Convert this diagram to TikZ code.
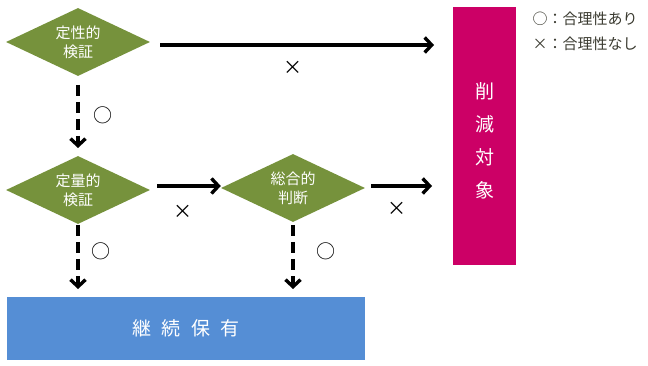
\documentclass[tikz,border=0pt]{standalone}
\usepackage{fontspec}
\setmainfont{Noto Sans CJK JP}
\usetikzlibrary{shapes.geometric,arrows.meta}
\definecolor{olive}{HTML}{76923C}
\definecolor{boxblue}{HTML}{558ED5}
\definecolor{magenta}{HTML}{CC0066}
\definecolor{legend}{HTML}{3A3A30}
\tikzset{
  dia/.style={diamond, fill=olive, draw=none, minimum width=144pt, minimum height=68pt, aspect=2.1, inner sep=0pt, text=white, font=\fontsize{15}{19}\selectfont, align=center},
  arr/.style={line width=3.6pt, -{Straight Barb[length=7pt,width=15pt,line width=3.4pt]}},
  darr/.style={arr, dash pattern=on 11pt off 6pt},
  symb/.style={font=\fontsize{19}{20}\selectfont},
  lbl/.style={font=\fontsize{15}{17}\selectfont, text=legend, anchor=west}
}
\begin{document}
\begin{tikzpicture}[x=1pt,y=-1pt]
\useasboundingbox (0,0) rectangle (648,366);
\node[dia] (d1) at (78,42) {定性的\\検証};
\node[dia] (d2) at (78,190) {定量的\\検証};
\node[dia] (d3) at (293,188) {総合的\\判断};
\node[fill=boxblue, draw=none, minimum width=358pt, minimum height=63pt, inner sep=0pt, text=white, font=\fontsize{19}{20}\selectfont] (keep) at (186,328.5) {継\hspace{0.55em}続\hspace{0.55em}保\hspace{0.55em}有};
\node[fill=magenta, draw=none, minimum width=63pt, minimum height=258pt, inner sep=0pt, text=white, font=\fontsize{19}{33}\selectfont, align=center] (cut) at (484.5,136) {};
\node[text=white, font=\fontsize{19}{33}\selectfont, align=center] (cuttext) at (484.5,141) {削\\減\\対\\象};
\coordinate (s1) at (160,45);
\coordinate (e1) at (434,45);
\coordinate (s2) at (157,186);
\coordinate (s3) at (371,186);
\coordinate (e3) at (432,186);
\coordinate (a1) at (78,85);
\coordinate (b1) at (78,148);
\coordinate (a2) at (78,225);
\coordinate (b2) at (78,289);
\coordinate (a3) at (293,225);
\coordinate (b3) at (293,289);
\draw[arr] (s1) -- (e1);
\draw[darr] (a1) -- (b1);
\draw[arr] (s2) -- (s2 -| d3.west);
\draw[arr] (s3) -- (e3);
\draw[darr] (a2) -- (b2);
\draw[darr] (a3) -- (b3);
\node[symb] at (293,68) {×};
\node[symb] at (183,212) {×};
\node[symb] at (397,209) {×};
\node[symb] at (103,115) {○};
\node[symb] at (101,251) {○};
\node[symb] at (326,251) {○};
\node[lbl] (l1) at (529,19) {○：合理性あり};
\node[lbl] (l2) at (529,44) {×：合理性なし};
\end{tikzpicture}
\end{document}
